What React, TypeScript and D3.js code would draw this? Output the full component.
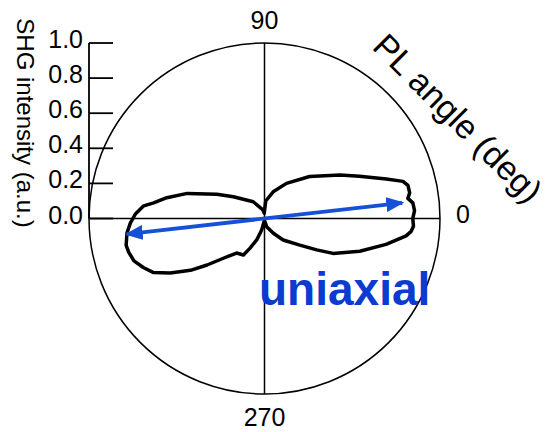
import React from "react";
import * as d3 from "d3";

const width = 552;
const height = 432;
const cx = 264.5;
const cy = 218.5;
const R = 175.5;

const angles = [
  0, 3, 6, 8, 10, 13, 15, 18, 24, 30,
  43, 58, 72, 86, 93, 100, 124, 145, 153, 162,
  168, 172, 174, 178, 182, 186, 191, 194, 198, 202,
  206, 210, 215, 219, 224, 231, 240, 244, 250, 256,
  268, 285, 301, 311, 323, 329, 333, 341, 348, 353,
  355, 357,
];
const intensity = [
  0.845, 0.856, 0.85, 0.825, 0.84, 0.839, 0.817, 0.73, 0.592, 0.497,
  0.351, 0.236, 0.16, 0.1, 0.03, 0.05, 0.115, 0.216, 0.305, 0.463,
  0.569, 0.638, 0.692, 0.736, 0.765, 0.788, 0.803, 0.797, 0.782, 0.745,
  0.703, 0.621, 0.515, 0.421, 0.326, 0.253, 0.24, 0.188, 0.13, 0.067,
  0.01, 0.048, 0.098, 0.162, 0.252, 0.347, 0.438, 0.574, 0.708, 0.813,
  0.839, 0.85,
];

const radialTicks = [0, 0.2, 0.4, 0.6, 0.8, 1.0];
const angleLabels = [0, 90, 270];

// uniaxial direction arrow
const axisAngle = 6.5;
const axisLength = 0.79;

const toRad = (deg: number) => ((90 - deg) * Math.PI) / 180;

export default function App() {
  const r = d3.scaleLinear().domain([0, 1]).range([0, R]);

  const pts = angles.map((a, i) => [a, intensity[i]] as [number, number]);
  const lobe = d3
    .lineRadial<[number, number]>()
    .angle((d) => toRad(d[0]))
    .radius((d) => r(d[1]))
    .curve(d3.curveLinearClosed)(pts);

  const [ax1, ay1] = d3.pointRadial(toRad(axisAngle), r(axisLength));
  const [ax2, ay2] = d3.pointRadial(toRad(axisAngle + 180), r(axisLength));

  const font = "Liberation Sans, Arial, sans-serif";
  const blue = "#1650d6";

  return (
    <svg
      width={width}
      height={height}
      style={{ position: "absolute", left: 0, top: 0, background: "#fff" }}
      fontFamily={font}
    >
      <defs>
        <marker
          id="head"
          viewBox="0 0 18 15"
          refX="16"
          refY="7.5"
          markerWidth="18"
          markerHeight="15"
          orient="auto-start-reverse"
          markerUnits="userSpaceOnUse"
        >
          <path d="M0,0 L18,7.5 L0,15 z" fill={blue} />
        </marker>
      </defs>

      <g transform={`translate(${cx},${cy})`}>
        <circle r={R} fill="none" stroke="#000" strokeWidth={1.5} />
        <line x1={-R} x2={R} y1={0} y2={0} stroke="#000" strokeWidth={1.5} />
        <line x1={0} x2={0} y1={-R} y2={R} stroke="#000" strokeWidth={1.5} />

        <path d={lobe || ""} fill="none" stroke="#000" strokeWidth={3.5} strokeLinejoin="round" />

        <line
          x1={ax2}
          y1={ay2}
          x2={ax1}
          y2={ay1}
          stroke={blue}
          strokeWidth={3.8}
          markerStart="url(#head)"
          markerEnd="url(#head)"
        />

        {angleLabels.map((a) => {
          const [x, y] = d3.pointRadial(toRad(a), r(1) + 23);
          return (
            <text
              key={a}
              x={x}
              y={a === 0 ? y - 5 : y}
              textAnchor="middle"
              dominantBaseline="central"
              fontSize={25}
            >
              {a}
            </text>
          );
        })}

        {/* radial intensity axis on the left */}
        <g transform={`translate(${-R},0)`}>
          <line x1={0} x2={0} y1={0} y2={-r(1)} stroke="#000" strokeWidth={1.8} />
          {radialTicks.map((t) => (
            <g key={t} transform={`translate(0,${-r(t)})`}>
              <line x1={0} x2={24} stroke="#000" strokeWidth={1.8} />
              <text
                x={-6}
                y={-4}
                textAnchor="end"
                dominantBaseline="central"
                fontSize={25}
              >
                {t.toFixed(1)}
              </text>
            </g>
          ))}
        </g>
      </g>

      <text
        transform="translate(25,123) rotate(90)"
        textAnchor="middle"
        dominantBaseline="central"
        fontSize={24}
      >
        SHG intensity (a.u.)
      </text>

      <text
        transform="translate(458,118) rotate(45)"
        textAnchor="middle"
        dominantBaseline="central"
        fontSize={34}
      >
        PL angle (deg)
      </text>

      <text x={259} y={305} fontSize={46} fontWeight="bold" fill="#0b3bd0">
        uniaxial
      </text>
    </svg>
  );
}
